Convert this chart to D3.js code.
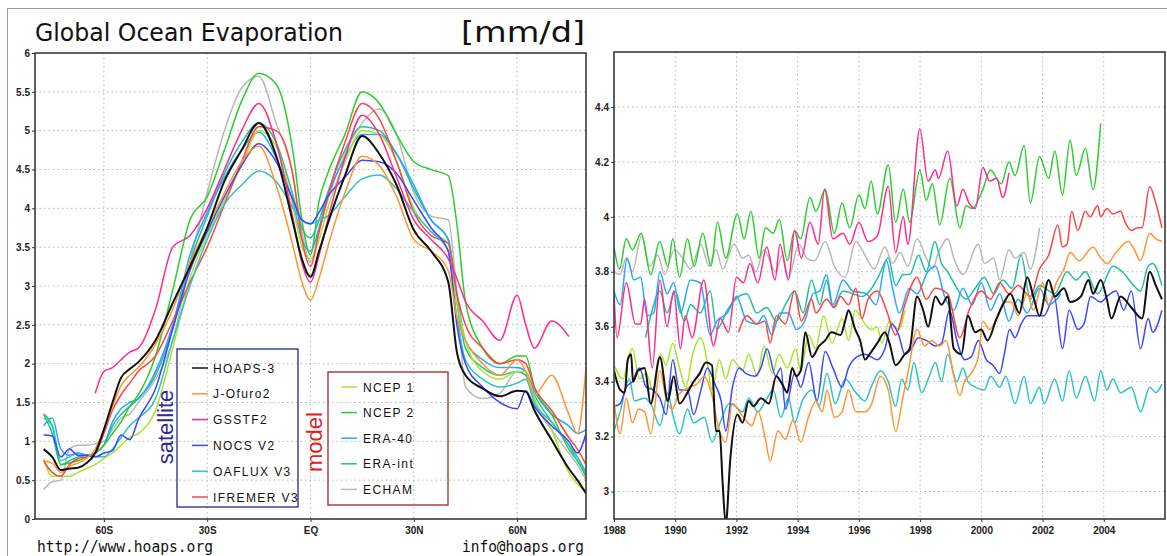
<!DOCTYPE html>
<html>
<head>
<meta charset="utf-8">
<script src="https://cdn.jsdelivr.net/npm/d3@7"></script>
<style>
body{margin:0;background:#fff}
svg{display:block}
.ax text{font-family:"Liberation Sans",Arial,sans-serif;font-weight:bold;font-size:10px;fill:#222}
.ax line{stroke:#333}
.ax path{display:none}
.grid line{stroke:#b4b4b4;stroke-dasharray:1.5,3}
.leg{font-family:"Liberation Sans",Arial,sans-serif;font-size:12px;letter-spacing:1.4px;fill:#111}
</style>
</head>
<body>
<svg id="chart" width="1167" height="556"></svg>
<script>
// ---- zonal means (left panel), latitude grid
var zonalLat = [-77.5,-75,-72.5,-70,-67.5,-65,-62.5,-60,-57.5,-55,-52.5,-50,-45,-40,-35,-30,-25,-20,-15,-10,-5,-2.5,0,2.5,5,10,15,20,25,30,35,40,42.5,45,50,55,60,62.5,65,70,75,77.5,80];
var latTicks = [-60,-30,0,30,60];
var latLabels = ["60S","30S","EQ","30N","60N"];
var zTicks = [0,0.5,1,1.5,2,2.5,3,3.5,4,4.5,5,5.5,6];

var zHOAPS   = [0.9,0.8,0.63,0.65,0.66,0.72,0.85,1.15,1.5,1.82,1.93,2.02,2.3,2.78,3.25,3.75,4.35,4.75,5.1,4.68,3.8,3.35,3.12,3.45,3.8,4.42,4.93,4.7,4.3,3.72,3.45,3.05,2.15,1.85,1.68,1.58,1.65,1.64,1.4,1.02,0.65,0.5,0.33];
var zJOFURO  = [0.75,0.72,0.6,0.68,0.72,0.78,0.9,1.15,1.45,1.72,1.85,1.95,2.25,2.7,3.3,3.75,4.2,4.6,4.8,4.3,3.5,3.05,2.82,3.1,3.5,4.2,4.67,4.55,4.15,3.6,3.45,3.2,2.6,2.3,2.0,1.85,2.05,1.9,1.6,1.85,1.35,1.1,1.95];
var zGSSTF   = [null,null,null,null,null,null,1.62,1.9,1.95,2.05,2.15,2.2,2.7,3.5,3.65,4.0,4.5,5.0,5.35,4.85,3.85,3.3,3.05,3.4,3.85,4.65,5.2,4.95,4.4,3.85,3.6,3.35,3.1,2.8,2.55,2.3,2.88,2.5,2.2,2.55,2.35,null,null];
var zNOCS    = [1.08,1.07,0.8,0.9,0.82,0.82,0.8,0.85,0.88,1.08,1.02,1.28,1.68,2.45,3.2,3.7,4.15,4.55,4.83,4.6,4.1,3.85,3.8,3.95,4.15,4.4,4.62,4.6,4.45,4.1,3.75,3.45,2.5,2.0,1.7,1.5,1.42,1.65,1.45,1.2,1.0,0.85,1.1];
var zOAFLUX  = [1.3,1.2,0.75,0.8,0.85,0.82,0.8,0.8,0.9,1.05,1.2,1.3,1.55,2.3,3.0,3.6,4.05,4.3,4.48,4.35,4.0,3.85,3.8,3.85,3.9,4.15,4.38,4.43,4.25,3.95,3.7,3.45,2.6,2.05,1.8,1.7,1.75,1.8,1.5,1.25,0.95,0.75,0.6];
var zIFREMER = [0.75,0.6,0.55,0.7,0.78,0.8,0.85,1.1,1.4,1.6,1.75,1.9,2.1,2.55,3.05,3.5,4.05,4.6,5.05,5.0,4.4,3.6,3.25,3.7,4.15,4.85,5.35,5.15,4.6,3.95,3.65,3.55,2.9,2.5,2.2,2.0,2.05,2.0,1.7,1.4,1.05,0.9,0.7];
var zNCEP1   = [0.78,0.55,0.55,0.55,0.6,0.65,0.7,0.78,0.85,0.95,1.05,1.1,1.4,2.2,3.1,3.65,4.1,4.55,5.0,4.8,4.0,3.5,3.35,3.6,4.0,4.6,5.0,4.95,4.6,4.0,3.7,3.55,2.8,2.3,1.9,1.8,1.9,1.9,1.55,1.15,0.6,0.45,0.35];
var zNCEP2   = [1.35,1.2,0.7,0.72,0.75,0.8,0.85,0.95,1.1,1.25,1.45,1.6,2.1,2.95,3.85,4.15,4.75,5.38,5.74,5.6,4.7,3.85,3.4,4.1,4.45,4.95,5.5,5.35,4.95,4.6,4.5,4.42,3.8,2.8,2.2,2.0,2.1,2.1,1.7,1.35,0.9,0.75,0.55];
var zERA40   = [1.2,1.3,0.9,0.82,0.85,0.82,0.85,0.95,1.25,1.42,1.5,1.55,1.9,2.5,3.4,3.95,4.4,4.75,4.98,4.65,4.05,3.6,3.45,3.75,4.15,4.65,4.95,4.95,4.7,4.3,3.85,3.6,2.9,2.3,2.05,1.95,1.95,1.9,1.65,1.35,1.2,1.1,1.15];
var zERAINT  = [1.35,1.1,0.7,0.75,0.8,0.82,0.85,0.95,1.2,1.35,1.45,1.55,1.85,2.45,3.3,3.9,4.45,4.85,5.1,4.85,4.15,3.75,3.62,3.85,4.2,4.75,5.05,5.0,4.7,4.25,3.85,3.6,2.8,2.2,1.95,1.85,1.9,1.85,1.6,1.25,0.95,0.8,0.6];
var zECHAM   = [0.38,0.48,0.5,0.9,0.95,0.95,0.97,1.0,1.15,1.3,1.35,1.5,1.8,2.3,3.3,4.2,5.0,5.55,5.7,5.1,4.4,3.7,3.3,3.7,4.1,4.7,5.1,5.28,4.95,4.2,3.9,3.85,2.9,1.7,1.55,1.62,1.9,1.85,1.5,1.15,0.85,0.7,0.5];

// ---- global means (right panel), [year, mm/d]
var yearTicks = [1988,1990,1992,1994,1996,1998,2000,2002,2004];
var tTicks = [3,3.2,3.4,3.6,3.8,4,4.2,4.4];

var tHOAPS = [[1988.0,3.44],[1988.2,3.37],[1988.35,3.36],[1988.45,3.48],[1988.56,3.50],[1988.62,3.40],[1988.78,3.44],[1989.0,3.45],[1989.2,3.32],[1989.5,3.49],[1989.76,3.33],[1989.95,3.42],[1990.14,3.32],[1990.4,3.36],[1990.6,3.40],[1990.8,3.43],[1991.0,3.47],[1991.2,3.46],[1991.33,3.22],[1991.45,3.22],[1991.55,3.03],[1991.65,2.88],[1991.8,3.12],[1992.03,3.28],[1992.2,3.25],[1992.4,3.33],[1992.55,3.31],[1992.8,3.34],[1993.06,3.32],[1993.3,3.42],[1993.5,3.39],[1993.66,3.36],[1993.82,3.45],[1993.95,3.42],[1994.1,3.44],[1994.25,3.58],[1994.47,3.49],[1994.7,3.53],[1994.9,3.55],[1995.1,3.58],[1995.4,3.57],[1995.55,3.62],[1995.66,3.66],[1995.88,3.59],[1996.04,3.55],[1996.2,3.48],[1996.35,3.50],[1996.6,3.54],[1996.85,3.58],[1997.0,3.54],[1997.2,3.46],[1997.5,3.50],[1997.66,3.52],[1997.9,3.71],[1998.1,3.66],[1998.26,3.60],[1998.5,3.71],[1998.7,3.68],[1998.9,3.71],[1999.1,3.52],[1999.35,3.50],[1999.56,3.64],[1999.8,3.58],[2000.0,3.59],[2000.2,3.55],[2000.5,3.63],[2000.75,3.69],[2000.95,3.72],[2001.24,3.65],[2001.5,3.78],[2001.7,3.71],[2001.9,3.64],[2002.2,3.77],[2002.4,3.71],[2002.7,3.74],[2002.9,3.69],[2003.25,3.71],[2003.5,3.77],[2003.65,3.72],[2003.9,3.77],[2004.1,3.70],[2004.25,3.63],[2004.55,3.71],[2004.9,3.67],[2005.25,3.63],[2005.5,3.80],[2005.7,3.75],[2005.9,3.70]];
var tJOFURO = [[1988.0,3.33],[1988.2,3.21],[1988.4,3.34],[1988.6,3.25],[1988.8,3.30],[1989.0,3.29],[1989.2,3.21],[1989.5,3.44],[1989.7,3.34],[1989.9,3.30],[1990.1,3.35],[1990.46,3.38],[1990.7,3.39],[1990.95,3.42],[1991.2,3.35],[1991.4,3.24],[1991.65,3.18],[1991.87,3.32],[1992.1,3.29],[1992.3,3.26],[1992.5,3.24],[1992.7,3.29],[1992.95,3.19],[1993.1,3.11],[1993.35,3.22],[1993.6,3.19],[1993.85,3.26],[1994.1,3.18],[1994.35,3.27],[1994.6,3.33],[1994.8,3.29],[1994.96,3.37],[1995.2,3.27],[1995.45,3.29],[1995.66,3.37],[1995.9,3.29],[1996.2,3.29],[1996.42,3.32],[1996.7,3.42],[1996.96,3.37],[1997.2,3.22],[1997.45,3.35],[1997.6,3.43],[1997.9,3.59],[1998.15,3.53],[1998.37,3.55],[1998.64,3.53],[1998.85,3.55],[1999.1,3.42],[1999.3,3.35],[1999.45,3.40],[1999.67,3.43],[1999.9,3.49],[2000.05,3.62],[2000.27,3.59],[2000.5,3.63],[2000.75,3.69],[2000.97,3.69],[2001.2,3.64],[2001.5,3.72],[2001.7,3.66],[2002.0,3.76],[2002.2,3.68],[2002.45,3.76],[2002.7,3.81],[2002.9,3.87],[2003.2,3.84],[2003.65,3.89],[2003.9,3.85],[2004.1,3.83],[2004.4,3.87],[2004.8,3.91],[2005.0,3.88],[2005.2,3.84],[2005.5,3.94],[2005.7,3.92],[2005.9,3.91]];
var tGSSTF = [[1988.0,3.72],[1988.1,3.56],[1988.4,3.76],[1988.7,3.61],[1988.87,3.61],[1989.0,3.70],[1989.25,3.45],[1989.5,3.77],[1989.73,3.60],[1989.95,3.73],[1990.17,3.52],[1990.33,3.64],[1990.55,3.56],[1990.93,3.77],[1991.25,3.53],[1991.47,3.63],[1991.74,3.58],[1992.0,3.78],[1992.23,3.76],[1992.44,3.83],[1992.7,3.76],[1992.99,3.89],[1993.26,3.77],[1993.42,3.90],[1993.7,3.77],[1993.9,3.95],[1994.12,3.85],[1994.4,3.98],[1994.67,3.90],[1994.88,4.10],[1995.15,3.92],[1995.48,3.94],[1995.7,3.90],[1996.0,3.98],[1996.3,3.91],[1996.6,3.93],[1996.96,4.11],[1997.2,3.87],[1997.45,4.00],[1997.6,3.90],[1997.99,4.32],[1998.26,4.13],[1998.5,4.17],[1998.6,4.14],[1998.9,4.24],[1999.2,4.04],[1999.4,4.10],[1999.6,4.05],[1999.8,4.03],[2000.05,4.18],[2000.27,4.13],[2000.5,4.14],[2000.7,4.07],[2000.9,4.16]];
var tNOCS = [[1988.0,3.31],[1988.2,3.32],[1988.4,3.38],[1988.6,3.40],[1988.83,3.45],[1989.05,3.38],[1989.27,3.37],[1989.5,3.34],[1989.7,3.28],[1989.92,3.48],[1990.14,3.37],[1990.4,3.37],[1990.6,3.28],[1990.84,3.37],[1991.05,3.45],[1991.3,3.39],[1991.5,3.33],[1991.65,3.22],[1991.87,3.38],[1992.1,3.45],[1992.3,3.43],[1992.6,3.42],[1992.8,3.45],[1993.0,3.52],[1993.28,3.42],[1993.45,3.45],[1993.6,3.30],[1993.9,3.43],[1994.1,3.38],[1994.36,3.47],[1994.63,3.33],[1994.9,3.51],[1995.15,3.45],[1995.45,3.38],[1995.66,3.45],[1995.93,3.49],[1996.2,3.50],[1996.4,3.49],[1996.6,3.48],[1996.85,3.52],[1997.07,3.61],[1997.3,3.57],[1997.5,3.50],[1997.72,3.52],[1997.94,3.56],[1998.2,3.55],[1998.5,3.53],[1998.7,3.54],[1998.96,3.66],[1999.2,3.55],[1999.45,3.48],[1999.67,3.49],[1999.9,3.55],[2000.16,3.48],[2000.38,3.46],[2000.6,3.43],[2000.75,3.50],[2000.92,3.59],[2001.1,3.56],[2001.3,3.61],[2001.5,3.64],[2001.7,3.64],[2002.05,3.64],[2002.38,3.71],[2002.65,3.52],[2002.87,3.66],[2003.15,3.59],[2003.35,3.61],[2003.57,3.71],[2003.9,3.69],[2004.1,3.71],[2004.4,3.73],[2004.65,3.66],[2004.9,3.73],[2005.2,3.52],[2005.45,3.63],[2005.6,3.58],[2005.9,3.66]];
var tOAFLUX = [[1988.0,3.22],[1988.2,3.29],[1988.5,3.41],[1988.67,3.33],[1989.0,3.34],[1989.2,3.32],[1989.5,3.24],[1989.76,3.36],[1989.92,3.28],[1990.14,3.21],[1990.4,3.30],[1990.6,3.25],[1990.95,3.27],[1991.2,3.18],[1991.5,3.26],[1991.76,3.32],[1991.98,3.31],[1992.2,3.29],[1992.4,3.34],[1992.7,3.29],[1992.95,3.33],[1993.2,3.37],[1993.45,3.27],[1993.7,3.34],[1993.9,3.25],[1994.15,3.33],[1994.47,3.37],[1994.7,3.31],[1994.96,3.43],[1995.23,3.32],[1995.55,3.41],[1995.9,3.36],[1996.2,3.33],[1996.4,3.38],[1996.7,3.44],[1996.96,3.40],[1997.2,3.31],[1997.4,3.41],[1997.6,3.37],[1997.8,3.47],[1998.05,3.36],[1998.3,3.42],[1998.5,3.47],[1998.7,3.40],[1998.9,3.50],[1999.2,3.40],[1999.4,3.45],[1999.56,3.40],[1999.8,3.38],[2000.1,3.37],[2000.3,3.42],[2000.6,3.38],[2000.8,3.42],[2001.1,3.32],[2001.4,3.42],[2001.6,3.32],[2001.9,3.38],[2002.05,3.32],[2002.4,3.41],[2002.65,3.33],[2002.87,3.44],[2003.1,3.34],[2003.4,3.42],[2003.7,3.33],[2003.9,3.44],[2004.1,3.37],[2004.3,3.41],[2004.55,3.36],[2004.9,3.38],[2005.2,3.29],[2005.5,3.38],[2005.7,3.36],[2005.9,3.39]];
var tIFREMER = [[1992.07,3.58],[1992.34,3.64],[1992.66,3.61],[1992.93,3.62],[1993.1,3.54],[1993.3,3.64],[1993.6,3.61],[1993.9,3.73],[1994.12,3.62],[1994.45,3.70],[1994.6,3.65],[1994.94,3.70],[1995.2,3.67],[1995.4,3.71],[1995.66,3.68],[1995.9,3.74],[1996.1,3.63],[1996.3,3.70],[1996.6,3.73],[1996.9,3.66],[1997.2,3.57],[1997.5,3.68],[1997.9,3.78],[1998.2,3.70],[1998.5,3.74],[1998.9,3.72],[1999.3,3.56],[1999.6,3.66],[2000.0,3.73],[2000.3,3.70],[2000.6,3.76],[2000.9,3.72],[2001.2,3.75],[2001.6,3.71],[2001.9,3.81],[2002.2,3.86],[2002.5,3.97],[2002.65,3.89],[2002.8,3.90],[2002.95,4.02],[2003.15,3.95],[2003.4,4.02],[2003.55,4.00],[2003.8,4.04],[2003.9,4.00],[2004.1,4.03],[2004.3,4.01],[2004.55,4.02],[2004.7,3.98],[2004.9,3.95],[2005.1,3.96],[2005.25,3.96],[2005.5,4.11],[2005.7,4.05],[2005.9,3.96]];
var tNCEP1 = [[1988.0,3.46],[1988.3,3.41],[1988.5,3.50],[1988.6,3.52],[1988.83,3.41],[1989.05,3.43],[1989.27,3.37],[1989.53,3.50],[1989.7,3.46],[1989.92,3.54],[1990.14,3.45],[1990.35,3.38],[1990.57,3.50],[1990.84,3.56],[1991.05,3.47],[1991.2,3.37],[1991.44,3.48],[1991.65,3.41],[1991.87,3.48],[1992.2,3.44],[1992.4,3.50],[1992.68,3.42],[1992.9,3.53],[1993.17,3.43],[1993.39,3.50],[1993.66,3.45],[1993.93,3.52],[1994.1,3.44],[1994.36,3.57],[1994.58,3.52],[1994.85,3.64],[1995.12,3.54],[1995.45,3.63],[1995.66,3.55],[1995.88,3.66],[1996.2,3.61],[1996.42,3.59],[1996.6,3.60],[1996.75,3.54],[1997.0,3.62],[1997.3,3.59],[1997.5,3.66]];
var tNCEP2 = [[1988.0,3.89],[1988.18,3.81],[1988.4,3.92],[1988.6,3.88],[1988.89,3.94],[1989.2,3.79],[1989.49,3.91],[1989.76,3.82],[1989.92,3.92],[1990.14,3.78],[1990.4,3.92],[1990.62,3.82],[1990.9,3.94],[1991.17,3.82],[1991.38,3.98],[1991.65,3.85],[1992.03,4.01],[1992.25,3.92],[1992.47,4.02],[1992.74,3.85],[1992.95,3.96],[1993.2,3.94],[1993.4,3.99],[1993.66,3.84],[1993.9,3.95],[1994.1,3.92],[1994.4,4.07],[1994.6,4.02],[1994.9,4.10],[1995.2,3.94],[1995.45,4.05],[1995.7,3.96],[1996.0,4.08],[1996.2,4.03],[1996.4,4.13],[1996.6,4.01],[1996.96,4.19],[1997.2,3.98],[1997.45,4.10],[1997.66,3.98],[1997.99,4.17],[1998.2,4.06],[1998.4,4.12],[1998.64,3.97],[1998.97,4.14],[1999.3,3.96],[1999.5,4.04],[1999.7,4.03],[2000.05,4.10],[2000.3,4.17],[2000.65,4.12],[2000.9,4.20],[2001.1,4.15],[2001.4,4.26],[2001.6,4.05],[2001.9,4.22],[2002.2,4.14],[2002.4,4.24],[2002.65,4.08],[2002.9,4.28],[2003.1,4.15],[2003.4,4.25],[2003.65,4.10],[2003.9,4.34]];
var tERA40 = [[1988.0,3.73],[1988.2,3.68],[1988.43,3.85],[1988.65,3.77],[1988.87,3.78],[1989.08,3.64],[1989.3,3.65],[1989.5,3.80],[1989.73,3.72],[1989.95,3.76],[1990.17,3.65],[1990.5,3.77],[1990.82,3.76],[1991.14,3.57],[1991.36,3.62],[1991.7,3.65],[1992.0,3.71],[1992.34,3.62],[1992.66,3.61],[1992.9,3.64],[1993.15,3.57],[1993.42,3.65],[1993.7,3.65],[1993.96,3.59],[1994.23,3.62],[1994.5,3.72],[1994.72,3.73],[1994.94,3.79],[1995.15,3.68],[1995.48,3.77],[1995.8,3.73],[1996.24,3.72],[1996.56,3.68],[1996.9,3.84],[1997.1,3.74],[1997.32,3.65],[1997.65,3.74],[1997.9,3.72],[1998.25,3.80],[1998.5,3.82],[1998.8,3.71],[1999.1,3.66],[1999.4,3.74],[1999.7,3.68],[2000.0,3.76],[2000.3,3.66],[2000.6,3.72],[2000.9,3.62],[2001.2,3.70],[2001.5,3.65],[2001.9,3.74],[2002.2,3.68],[2002.6,3.72]];
var tERAINT = [[1989.03,3.56],[1989.2,3.64],[1989.5,3.73],[1989.73,3.65],[1990.0,3.73],[1990.3,3.62],[1990.5,3.68],[1990.82,3.65],[1991.14,3.73],[1991.36,3.59],[1991.7,3.66],[1992.07,3.71],[1992.34,3.72],[1992.66,3.65],[1992.99,3.67],[1993.3,3.62],[1993.6,3.68],[1993.9,3.73],[1994.18,3.65],[1994.45,3.77],[1994.72,3.68],[1994.94,3.77],[1995.15,3.67],[1995.48,3.73],[1995.8,3.72],[1996.1,3.71],[1996.35,3.73],[1996.67,3.79],[1996.96,3.85],[1997.2,3.75],[1997.45,3.79],[1997.66,3.79],[1997.95,3.86],[1998.2,3.80],[1998.48,3.91],[1998.7,3.83],[1998.9,3.80],[1999.1,3.76],[1999.5,3.70],[1999.8,3.74],[2000.1,3.78],[2000.4,3.72],[2000.7,3.77],[2001.0,3.74],[2001.3,3.86],[2001.6,3.70],[2001.9,3.75],[2002.4,3.72],[2002.8,3.80],[2003.1,3.77],[2003.4,3.80],[2003.8,3.72],[2004.3,3.82],[2004.6,3.80],[2004.98,3.75],[2005.2,3.73],[2005.45,3.82],[2005.6,3.83],[2005.9,3.75]];
var tECHAM = [[1988.0,3.80],[1988.2,3.79],[1988.4,3.85],[1988.6,3.80],[1988.9,3.93],[1989.16,3.82],[1989.43,3.86],[1989.65,3.79],[1989.97,3.88],[1990.24,3.85],[1990.5,3.81],[1990.84,3.90],[1991.1,3.82],[1991.33,3.88],[1991.55,3.81],[1991.92,3.90],[1992.2,3.85],[1992.4,3.86],[1992.63,3.80],[1992.9,3.88],[1993.28,3.80],[1993.5,3.86],[1993.7,3.78],[1994.04,3.90],[1994.3,3.85],[1994.55,3.84],[1994.9,3.91],[1995.2,3.82],[1995.55,3.78],[1995.9,3.91],[1996.2,3.86],[1996.5,3.81],[1996.85,3.89],[1997.1,3.83],[1997.35,3.87],[1997.6,3.82],[1997.9,3.92],[1998.2,3.85],[1998.4,3.81],[1998.6,3.87],[1998.9,3.92],[1999.1,3.85],[1999.4,3.79],[1999.9,3.90],[2000.1,3.83],[2000.4,3.85],[2000.6,3.77],[2000.9,3.88],[2001.1,3.85],[2001.4,3.87],[2001.6,3.81],[2001.9,3.96]];

// ---- legend names and colours
var satNames = ["HOAPS-3","J-Ofuro2","GSSTF2","NOCS V2","OAFLUX V3","IFREMER V3"];
var satColors = ["#111111","#ff9530","#ff2a8c","#3d47ff","#2ec3c8","#ff4444"];
var modNames = ["NCEP 1","NCEP 2","ERA-40","ERA-int","ECHAM"];
var modColors = ["#a8e62a","#2ecc2e","#2aa6ff","#1fc09c","#b9b9b9"];

var zonal = [zHOAPS,zJOFURO,zGSSTF,zNOCS,zOAFLUX,zIFREMER,zNCEP1,zNCEP2,zERA40,zERAINT,zECHAM];
var timeS = [tHOAPS,tJOFURO,tGSSTF,tNOCS,tOAFLUX,tIFREMER,tNCEP1,tNCEP2,tERA40,tERAINT,tECHAM];
var allColors = satColors.concat(modColors);

var svg = d3.select("#chart");
svg.append("rect").attr("width",1167).attr("height",556).attr("fill","#fff");

// outer frame lines
svg.append("line").attr("x1",7).attr("x2",1167).attr("y1",8.5).attr("y2",8.5).attr("stroke","#9a9a9a");
svg.append("line").attr("x1",7.5).attr("x2",7.5).attr("y1",8).attr("y2",556).attr("stroke","#9a9a9a");

// ================= left panel =================
var L = {x0:35,x1:586,y0:53,y1:519};
var xl = d3.scaleLinear().domain([-80,80]).range([L.x0,L.x1]);
var yl = d3.scaleLinear().domain([0,6]).range([L.y1,L.y0]);

var gl = svg.append("g");
gl.append("g").attr("class","grid")
	.selectAll("line.v").data(latTicks).enter().append("line")
	.attr("x1",d=>xl(d)).attr("x2",d=>xl(d)).attr("y1",L.y0).attr("y2",L.y1);
gl.append("g").attr("class","grid")
	.selectAll("line.h").data(zTicks.slice(1,-1)).enter().append("line")
	.attr("x1",L.x0).attr("x2",L.x1).attr("y1",d=>yl(d)).attr("y2",d=>yl(d));

gl.append("g").attr("class","ax").attr("transform","translate("+L.x0+",0)")
	.call(d3.axisLeft(yl).tickValues(zTicks).tickSizeInner(3).tickSizeOuter(0).tickPadding(2).tickFormat(d=>String(d)));
gl.append("g").attr("class","ax").attr("transform","translate(0,"+L.y1+")")
	.call(d3.axisBottom(xl).tickValues(latTicks).tickSizeInner(3).tickSizeOuter(0).tickPadding(5)
	.tickFormat((d,i)=>latLabels[i]));

svg.append("clipPath").attr("id","clipL").append("rect")
	.attr("x",L.x0).attr("y",L.y0).attr("width",L.x1-L.x0).attr("height",L.y1-L.y0);

var zline = d3.line().defined(d=>d[1]!=null).x(d=>xl(d[0])).y(d=>yl(d[1])).curve(d3.curveMonotoneX);
var order = [10,9,8,7,6,5,4,3,2,1,0];
var gzl = gl.append("g").attr("clip-path","url(#clipL)");
order.forEach(function(k){
	gzl.append("path")
		.datum(zonalLat.map((la,i)=>[la,zonal[k][i]]))
		.attr("d",zline).attr("fill","none")
		.attr("stroke",allColors[k]).attr("stroke-width",k==0?2:1.5)
		.attr("stroke-linejoin","round");
});

gl.append("rect").attr("x",L.x0).attr("y",L.y0).attr("width",L.x1-L.x0).attr("height",L.y1-L.y0)
	.attr("fill","none").attr("stroke","#3a3a3a").attr("stroke-width",1.6);

// legends
var sat = gl.append("g");
sat.append("rect").attr("x",177).attr("y",349).attr("width",121).attr("height",158)
	.attr("fill","none").attr("stroke","#35359a").attr("stroke-width",1.4);
satNames.forEach(function(n,i){
	var y = 368 + i*25.8;
	sat.append("line").attr("x1",192).attr("x2",208).attr("y1",y).attr("y2",y)
		.attr("stroke",satColors[i]).attr("stroke-width",1.5);
	sat.append("text").attr("class","leg").attr("x",213).attr("y",y+4.5).text(n);
});
sat.append("text").attr("transform","translate(173,427) rotate(-90)")
	.attr("text-anchor","middle").attr("font-family","Liberation Sans, Arial, sans-serif")
	.attr("font-size",22).attr("fill","#2b2b90").text("satellite");

var mod = gl.append("g");
mod.append("rect").attr("x",328).attr("y",372).attr("width",120).attr("height",133)
	.attr("fill","none").attr("stroke","#a83535").attr("stroke-width",1.4);
modNames.forEach(function(n,i){
	var y = 387 + i*25.6;
	mod.append("line").attr("x1",341).attr("x2",357).attr("y1",y).attr("y2",y)
		.attr("stroke",modColors[i]).attr("stroke-width",1.5);
	mod.append("text").attr("class","leg").attr("x",363).attr("y",y+4.5).text(n);
});
mod.append("text").attr("transform","translate(321.5,442) rotate(-90)")
	.attr("text-anchor","middle").attr("font-family","Liberation Sans, Arial, sans-serif")
	.attr("font-size",22).attr("fill","#e02020").text("model");

// ================= right panel =================
var R = {x0:614,x1:1165,y0:52,y1:519};
var xr = d3.scaleLinear().domain([1988,2006]).range([R.x0,R.x1]);
var yr = d3.scaleLinear().domain([2.9,4.6]).range([R.y1,R.y0]);

var gr = svg.append("g");
gr.append("g").attr("class","grid")
	.selectAll("line").data(yearTicks.slice(1)).enter().append("line")
	.attr("x1",d=>xr(d)).attr("x2",d=>xr(d)).attr("y1",R.y0).attr("y2",R.y1);
gr.append("g").attr("class","grid")
	.selectAll("line").data(tTicks).enter().append("line")
	.attr("x1",R.x0).attr("x2",R.x1).attr("y1",d=>yr(d)).attr("y2",d=>yr(d));

gr.append("g").attr("class","ax").attr("transform","translate("+R.x0+",0)")
	.call(d3.axisLeft(yr).tickValues(tTicks).tickSizeInner(3).tickSizeOuter(0).tickPadding(2)
	.tickFormat(d=>String(+d.toFixed(1))));
gr.append("g").attr("class","ax").attr("transform","translate(0,"+R.y1+")")
	.call(d3.axisBottom(xr).tickValues(yearTicks).tickSizeInner(3).tickSizeOuter(0).tickPadding(5)
	.tickFormat(d=>String(d)));

svg.append("clipPath").attr("id","clipR").append("rect")
	.attr("x",R.x0).attr("y",R.y0).attr("width",R.x1-R.x0).attr("height",R.y1-R.y0);

// monotone curve gives the rounded seasonal wiggles of the monthly series
var tline = d3.line().x(d=>xr(d[0])).y(d=>yr(d[1])).curve(d3.curveMonotoneX);
var gtr = gr.append("g").attr("clip-path","url(#clipR)");
order.forEach(function(k){
	gtr.append("path").datum(timeS[k])
		.attr("d",tline).attr("fill","none")
		.attr("stroke",allColors[k]).attr("stroke-width",k==0?2:1.5)
		.attr("stroke-linejoin","round");
});

gr.append("rect").attr("x",R.x0).attr("y",R.y0).attr("width",R.x1-R.x0).attr("height",R.y1-R.y0)
	.attr("fill","none").attr("stroke","#3a3a3a").attr("stroke-width",1.6);

// ================= titles =================
svg.append("text").attr("x",35).attr("y",41)
	.attr("font-family","DejaVu Sans, sans-serif").attr("font-size",25).attr("fill","#111")
	.attr("textLength",308).attr("lengthAdjust","spacingAndGlyphs")
	.text("Global Ocean Evaporation");
svg.append("text").attr("x",461).attr("y",42)
	.attr("font-family","DejaVu Sans, sans-serif").attr("font-size",28).attr("fill","#111")
	.attr("textLength",124).attr("lengthAdjust","spacingAndGlyphs")
	.text("[mm/d]");
svg.append("text").attr("x",37).attr("y",552)
	.attr("font-family","DejaVu Sans Mono, monospace").attr("font-size",15).attr("fill","#111")
	.attr("textLength",176).attr("lengthAdjust","spacingAndGlyphs")
	.text("http://www.hoaps.org");
svg.append("text").attr("x",462).attr("y",552)
	.attr("font-family","DejaVu Sans Mono, monospace").attr("font-size",15).attr("fill","#111")
	.attr("textLength",122).attr("lengthAdjust","spacingAndGlyphs")
	.text("info@hoaps.org");
</script>
</body>
</html>
